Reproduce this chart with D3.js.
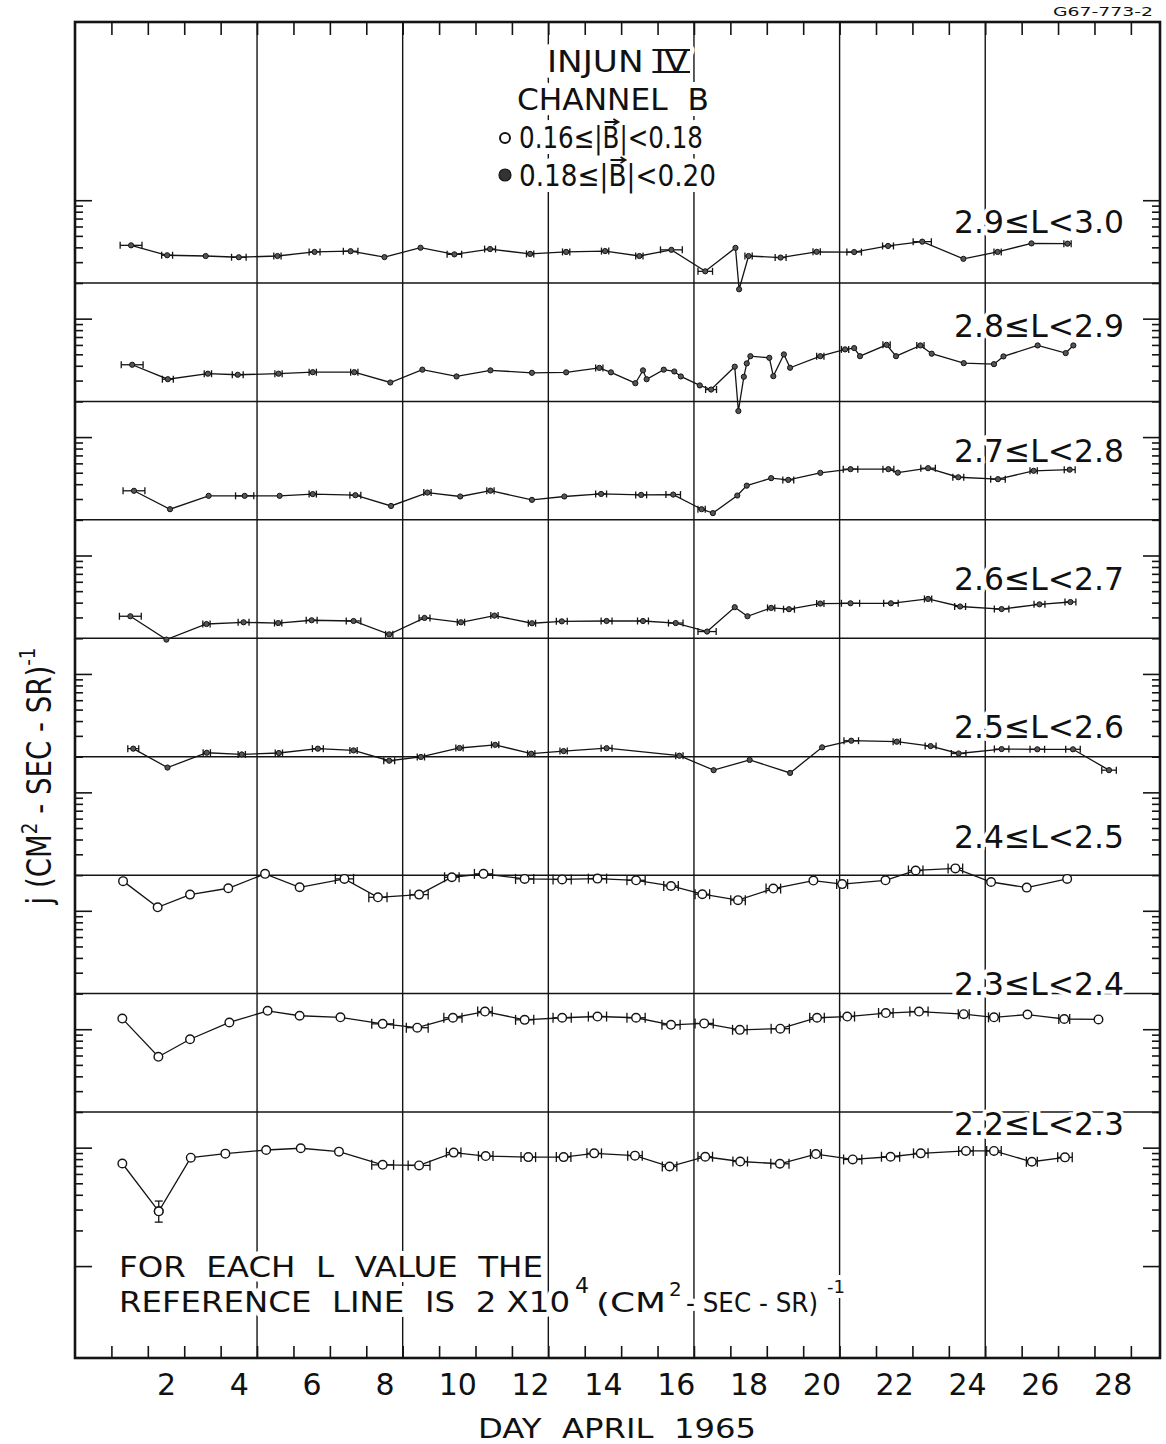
<!DOCTYPE html>
<html>
<head>
<meta charset="utf-8">
<script src="https://cdn.jsdelivr.net/npm/d3@7/dist/d3.min.js"></script>
<style>
  body { margin: 0; background: #fff; }
  svg { display: block; }
  text { font-family: "DejaVu Sans", "Liberation Sans", sans-serif; fill: #111; }
</style>
</head>
<body>
<svg id="chart" width="1166" height="1444"></svg>
<script>
// ---------------- DATA ----------------
// days of April 1965, flux j (cm^-2 s^-1 sr^-1), horizontal time-bar half widths (days)
const L22_day = [0.8,1.8,2.68,3.63,4.75,5.7,6.75,7.95,8.95,9.9,10.78,11.95,12.92,13.76,14.88,15.83,16.81,17.77,18.86,19.85,20.86,21.9,22.73,23.97,24.74,25.78,26.69];
const L22_j   = [7350,2900,8230,8900,9550,9880,9250,7160,7080,9080,8490,8320,8320,8950,8560,6930,8380,7640,7310,8830,7950,8380,8950,9380,9380,7600,8280];
const L22_bar = [0,0,0,0,0,0,0,0.3,0.3,0.2,0.2,0.2,0.2,0.2,0.2,0.2,0.2,0.2,0.25,0.15,0.25,0.25,0.2,0.2,0.2,0.15,0.2];
const L22_vErr = {index: 1, lo: 2350, hi: 3540};

const L23_day = [0.8,1.79,2.66,3.74,4.79,5.67,6.79,7.95,8.9,9.88,10.76,11.85,12.88,13.85,14.91,15.87,16.78,17.76,18.87,19.88,20.71,21.77,22.68,23.91,24.74,25.66,26.67,27.61];
const L23_j   = [12300,5850,8230,11400,14300,13000,12600,11100,10300,12500,14100,12000,12500,12800,12500,10900,11200,9880,10100,12500,12800,13700,14100,13400,12600,13300,12200,12100];
const L23_bar = [0,0,0,0,0,0,0,0.3,0.3,0.25,0.2,0.25,0.25,0.25,0.25,0.25,0.25,0.2,0.25,0.2,0.2,0.2,0.25,0.15,0.15,0,0.15,0];

const L24_day = [0.82,1.77,2.66,3.71,4.72,5.67,6.9,7.82,8.95,9.85,10.72,11.85,12.88,13.85,14.91,15.87,16.73,17.71,18.68,19.78,20.57,21.76,22.59,23.68,24.66,25.64,26.75];
const L24_j   = [17800,10700,13700,15500,20500,15800,18600,13000,13700,19200,20500,18600,18400,18700,18100,16200,13800,12300,15400,18000,16800,18100,21900,22800,17500,15700,18600];
const L24_bar = [0,0,0,0,0,0,0.25,0.25,0.25,0.2,0.25,0.25,0.25,0.25,0.25,0.2,0.2,0.2,0.2,0,0.15,0,0.2,0.2,0,0,0];

const L25_day = [1.1,2.04,3.12,4.08,5.1,6.17,7.15,8.13,9.0,10.06,11.04,12.03,12.92,14.1,16.1,17.04,18.03,19.14,20.02,20.82,22.07,23.0,23.77,24.95,25.93,26.91,27.9];
const L25_j   = [23400,16200,21600,20900,21500,23400,22600,18500,19900,23700,25200,21200,22300,23600,20400,15400,18800,14600,24000,27300,26800,24600,21300,23200,23100,23100,15400];
const L25_bar = [0.15,0,0.1,0.1,0.1,0.15,0.1,0.15,0.1,0.1,0.1,0.1,0.1,0.15,0.1,0,0,0,0,0.2,0.1,0.15,0.2,0.2,0.2,0.2,0.2];

const L26_day = [1.02,2.01,3.11,4.13,5.08,6.0,7.15,8.13,9.1,10.1,11.02,12.05,12.87,14.1,15.1,16.0,16.86,17.62,17.97,18.62,19.11,19.97,20.8,21.91,22.93,23.81,24.95,25.99,26.84];
const L26_j   = [30700,19500,26400,27300,26900,28400,28000,21600,29700,27300,31100,26800,27800,28000,28000,26900,22800,36600,30700,36100,35200,39300,39500,39500,43000,37100,35300,38700,40500];
const L26_bar = [0.3,0,0.1,0.15,0.1,0.15,0.2,0.1,0.15,0.1,0.1,0.1,0.15,0.15,0.15,0.2,0.25,0,0,0.1,0.15,0.1,0.25,0.2,0.1,0.15,0.2,0.15,0.15];

const L27_day = [1.12,2.11,3.17,4.16,5.12,6.03,7.2,8.18,9.18,10.08,10.91,12.05,12.94,13.95,15.05,15.93,16.71,17.02,17.69,17.95,18.62,19.09,19.97,20.8,21.84,22.1,22.93,23.76,24.85,25.83,26.82];
const L27_j   = [35200,24600,31900,31900,31900,33000,32300,26200,34000,31500,35300,29500,31500,33100,32500,32700,24600,22800,32100,38900,45000,43500,49900,53600,53600,50100,54600,45800,44100,51900,53100];
const L27_bar = [0.3,0,0,0.25,0,0.1,0.15,0,0.1,0,0.1,0,0,0.15,0.15,0.2,0.1,0,0,0,0,0.15,0,0.2,0.15,0,0.2,0.15,0.2,0.1,0.15];

const L28_day = [1.07,2.05,3.15,3.97,5.09,6.03,7.17,8.16,9.04,9.98,10.91,12.05,12.99,13.9,14.22,14.89,15.1,15.2,15.67,15.96,16.14,16.66,16.97,17.62,17.72,17.87,17.95,18.05,18.57,18.68,18.97,19.14,19.97,20.65,20.9,21.06,21.79,22.05,22.72,23.03,23.91,24.74,25.0,25.94,26.71,26.92];
const L28_j   = [40800,30800,34300,33600,34300,35300,35300,28900,37100,32500,36600,34900,35200,38400,35200,28500,36600,30800,37100,35800,32500,27300,25200,39300,16600,32300,41900,48200,46700,32700,49900,38500,48200,55000,56400,48200,60100,48200,59400,50600,42100,41300,48000,59400,51200,59400];
const L28_bar = [0.3,0.15,0.1,0.15,0.1,0.1,0.1,0,0,0,0,0,0,0.1,0,0,0,0,0,0,0,0,0.15,0,0,0,0,0,0,0,0,0,0.1,0.1,0,0,0.1,0,0.1,0,0,0,0,0,0,0];

const L29_day = [1.04,2.03,3.09,4.0,5.06,6.08,7.07,8.0,8.99,9.92,10.9,12.0,12.99,14.06,15.0,15.88,16.81,17.64,17.74,18.0,18.88,19.87,20.9,21.83,22.77,23.9,24.84,25.77,26.76];
const L29_j   = [41600,34300,33800,33000,33800,36600,37100,33100,39700,34900,38700,35200,36600,37200,33800,38100,25100,39600,17700,33800,32800,36700,36500,41100,44700,32000,36600,43200,43000];
const L29_bar = [0.3,0.15,0,0.2,0.1,0.15,0.2,0,0,0.2,0.15,0.1,0.1,0.1,0.1,0.3,0.2,0,0,0.1,0.15,0.1,0.2,0.15,0.25,0,0.1,0,0.1];

const bandLabels = ["2.2≤L<2.3","2.3≤L<2.4","2.4≤L<2.5","2.5≤L<2.6","2.6≤L<2.7","2.7≤L<2.8","2.8≤L<2.9","2.9≤L<3.0"];
const REF_FLUX = 2e4;          // reference line value for every L band
const PANEL_FACTOR = 10;       // each band is displaced by one decade
const xTickLabels = [2,4,6,8,10,12,14,16,18,20,22,24,26,28];
const gridDays = [4.5,8.5,12.5,16.5,20.5,24.5];
const dayBoundaries = d3.range(0.5, 29, 1);
const yDecades = d3.range(3, 13);   // exponents of decade ticks
const yMinorMult = [2,3,4,5,6,7,8,9];

// ---------------- LAYOUT ----------------
const frame = {left: 75, right: 1160, top: 22, bottom: 1358};
const labelBaselines = [1135, 995, 848, 738, 590, 462, 337, 233];
const labelLeft = 954, labelWidth = 170;

const svg = d3.select("#chart");
svg.append("rect").attr("width", 1166).attr("height", 1444).attr("fill", "#fff");

const x = d3.scaleLinear().domain([-0.5, 29.3]).range([frame.left, frame.right]);
const y = d3.scaleLog().domain([REF_FLUX, REF_FLUX * Math.pow(PANEL_FACTOR, 7)]).range([1112, 283]);

const bands = [
  {day: L22_day, j: L22_j, bar: L22_bar, open: true},
  {day: L23_day, j: L23_j, bar: L23_bar, open: true},
  {day: L24_day, j: L24_j, bar: L24_bar, open: true},
  {day: L25_day, j: L25_j, bar: L25_bar, open: false},
  {day: L26_day, j: L26_j, bar: L26_bar, open: false},
  {day: L27_day, j: L27_j, bar: L27_bar, open: false},
  {day: L28_day, j: L28_j, bar: L28_bar, open: false},
  {day: L29_day, j: L29_j, bar: L29_bar, open: false}
].map((b, p) => ({...b, p, label: bandLabels[p],
   pts: b.day.map((d, i) => ({d, v: b.j[i] * Math.pow(PANEL_FACTOR, p), bar: b.bar[i]}))}));

const ink = "#141414";

// ---------------- GRID ----------------
svg.append("g").selectAll("line").data(gridDays).join("line")
  .attr("x1", d => x(d)).attr("x2", d => x(d))
  .attr("y1", frame.top).attr("y2", frame.bottom)
  .attr("stroke", ink).attr("stroke-width", 1.4);

svg.append("g").selectAll("line").data(bands).join("line")
  .attr("x1", frame.left).attr("x2", frame.right)
  .attr("y1", b => y(REF_FLUX * Math.pow(PANEL_FACTOR, b.p)))
  .attr("y2", b => y(REF_FLUX * Math.pow(PANEL_FACTOR, b.p)))
  .attr("stroke", ink).attr("stroke-width", 1.5);

// ---------------- AXES ----------------
function clean(g){ g.select(".domain").remove(); g.selectAll("line").attr("stroke", ink).attr("stroke-width", 1.6); }

svg.append("g").attr("transform", `translate(0,${frame.bottom})`)
  .call(d3.axisTop(x).tickValues(dayBoundaries).tickSize(12).tickFormat(""))
  .call(clean);
svg.append("g").attr("transform", `translate(0,${frame.top})`)
  .call(d3.axisBottom(x).tickValues(dayBoundaries).tickSize(13).tickFormat(""))
  .call(clean);

const majorTicks = yDecades.map(n => Math.pow(10, n));
const minorTicks = yDecades.slice(0, -1).flatMap(n => yMinorMult.map(m => m * Math.pow(10, n)));
[[d3.axisRight, frame.left], [d3.axisLeft, frame.right]].forEach(([ax, px]) => {
  svg.append("g").attr("transform", `translate(${px},0)`)
    .call(ax(y).tickValues(majorTicks).tickSize(17).tickFormat("")).call(clean);
  svg.append("g").attr("transform", `translate(${px},0)`)
    .call(ax(y).tickValues(minorTicks).tickSize(8).tickFormat("")).call(clean);
});

// x tick labels
const xl = svg.append("g").attr("transform", `translate(0,${frame.bottom})`)
  .call(d3.axisBottom(x).tickValues(xTickLabels).tickSize(0).tickPadding(16));
xl.select(".domain").remove();
xl.selectAll("text").attr("font-size", 30).attr("font-family", '"DejaVu Sans", sans-serif').attr("fill", ink);

// frame
svg.append("rect").attr("x", frame.left).attr("y", frame.top)
  .attr("width", frame.right - frame.left).attr("height", frame.bottom - frame.top)
  .attr("fill", "none").attr("stroke", ink).attr("stroke-width", 2.6);

// ---------------- TEXT ----------------
function halo(sel, w) {
  return sel.attr("stroke", "#fff").attr("stroke-width", w).attr("paint-order", "stroke")
    .attr("stroke-linejoin", "round");
}

// band labels
svg.append("g").selectAll("text").data(bands).join("text")
  .attr("x", labelLeft).attr("y", b => labelBaselines[b.p])
  .attr("font-size", 32).attr("textLength", labelWidth).attr("lengthAdjust", "spacingAndGlyphs")
  .text(b => b.label).call(halo, 8);

// legend
const leg = svg.append("g");
const t1 = leg.append("text").attr("x", 547).attr("y", 72).attr("font-size", 30)
  .attr("textLength", 141).attr("lengthAdjust", "spacingAndGlyphs").style("white-space", "pre")
  .text("INJUN IV").call(halo, 12);
leg.append("text").attr("x", 517).attr("y", 110).attr("font-size", 30)
  .attr("textLength", 192).attr("lengthAdjust", "spacingAndGlyphs").style("white-space", "pre")
  .text("CHANNEL  B").call(halo, 12);
const t3 = leg.append("text").attr("x", 519).attr("y", 148).attr("font-size", 30)
  .attr("textLength", 184).attr("lengthAdjust", "spacingAndGlyphs")
  .text("0.16≤|B|<0.18").call(halo, 12);
const t4 = leg.append("text").attr("x", 519).attr("y", 186).attr("font-size", 30)
  .attr("textLength", 197).attr("lengthAdjust", "spacingAndGlyphs")
  .text("0.18≤|B|<0.20").call(halo, 12);
leg.append("circle").attr("cx", 505).attr("cy", 138).attr("r", 5)
  .attr("fill", "#fff").attr("stroke", ink).attr("stroke-width", 2);
leg.append("circle").attr("cx", 505).attr("cy", 175).attr("r", 6)
  .attr("fill", "#333").attr("stroke", ink).attr("stroke-width", 1.2);

// boxed roman numeral IV
{
  const n = t1.node();
  const s = n.getStartPositionOfChar(6).x, e = n.getEndPositionOfChar(7).x;
  leg.append("line").attr("x1", s - 2).attr("x2", e + 2).attr("y1", 50).attr("y2", 50).attr("stroke", ink).attr("stroke-width", 2);
  leg.append("line").attr("x1", s - 2).attr("x2", e + 2).attr("y1", 72).attr("y2", 72).attr("stroke", ink).attr("stroke-width", 2);
}
// vector arrows over B
[[t3, 148], [t4, 186]].forEach(([t, base]) => {
  const n = t.node();
  const s = n.getStartPositionOfChar(6).x, e = n.getEndPositionOfChar(6).x;
  const yy = base - 26;
  leg.append("path").attr("d", `M${s + 2},${yy} L${e - 1},${yy} M${e - 6},${yy - 3} L${e - 1},${yy} L${e - 6},${yy + 3}`)
    .attr("fill", "none").attr("stroke", ink).attr("stroke-width", 1.8);
});

// G-number
svg.append("text").attr("x", 1053).attr("y", 16).attr("font-size", 13)
  .attr("textLength", 100).attr("lengthAdjust", "spacingAndGlyphs").text("G67-773-2");

// note (two lines, superscripts as separate texts)
const note = svg.append("g");
note.append("text").attr("x", 119).attr("y", 1277).attr("font-size", 29).style("white-space", "pre")
  .attr("textLength", 424).attr("lengthAdjust", "spacingAndGlyphs")
  .text("FOR  EACH  L  VALUE  THE").call(halo, 10);
const notePieces = [
  {t: "REFERENCE  LINE  IS  2 X10", x: 119, y: 1312, fs: 29, w: 451},
  {t: "4", x: 575, y: 1293, fs: 22, w: null},
  {t: "(CM", x: 596, y: 1312, fs: 27, w: 70},
  {t: "2", x: 669, y: 1296, fs: 20, w: null},
  {t: "- SEC - SR)", x: 686, y: 1312, fs: 27, w: 132},
  {t: "-1", x: 827, y: 1293, fs: 18, w: null}
];
notePieces.forEach(p => {
  const t = note.append("text").attr("x", p.x).attr("y", p.y).attr("font-size", p.fs)
    .style("white-space", "pre").text(p.t).call(halo, 10);
  if (p.w) t.attr("textLength", p.w).attr("lengthAdjust", "spacingAndGlyphs");
});

// axis titles
svg.append("text").attr("x", 617).attr("y", 1438).attr("text-anchor", "middle").attr("font-size", 27)
  .style("white-space", "pre").attr("textLength", 278).attr("lengthAdjust", "spacingAndGlyphs")
  .text("DAY  APRIL  1965");
{
  const t = svg.append("text").attr("transform", "translate(51,776) rotate(-90)")
    .attr("text-anchor", "middle").attr("font-size", 33).style("white-space", "pre")
    .attr("textLength", 257).attr("lengthAdjust", "spacingAndGlyphs");
  t.append("tspan").text("j (CM");
  t.append("tspan").attr("dy", -14).attr("font-size", 22).text("2");
  t.append("tspan").attr("dy", 14).text(" - SEC - SR)");
  t.append("tspan").attr("dy", -16).attr("font-size", 22).text("-1");
}

// ---------------- DATA MARKS ----------------
const line = d3.line().x(p => x(p.d)).y(p => y(p.v));
const dataG = svg.append("g");
bands.forEach(b => {
  const g = dataG.append("g");
  g.append("path").attr("d", line(b.pts)).attr("fill", "none")
    .attr("stroke", ink).attr("stroke-width", 1.3);
  const withBar = b.pts.filter(p => p.bar > 0);
  g.selectAll("line.bar").data(withBar).join("line").attr("class", "bar")
    .attr("x1", p => x(p.d - p.bar)).attr("x2", p => x(p.d + p.bar))
    .attr("y1", p => y(p.v)).attr("y2", p => y(p.v))
    .attr("stroke", ink).attr("stroke-width", 1.3);
  const caps = withBar.flatMap(p => [{d: p.d - p.bar, v: p.v}, {d: p.d + p.bar, v: p.v}]);
  const ch = b.open ? 5 : 3.5;
  g.selectAll("line.cap").data(caps).join("line").attr("class", "cap")
    .attr("x1", c => x(c.d)).attr("x2", c => x(c.d))
    .attr("y1", c => y(c.v) - ch).attr("y2", c => y(c.v) + ch)
    .attr("stroke", ink).attr("stroke-width", 1.3);
  g.selectAll("circle").data(b.pts).join("circle")
    .attr("cx", p => x(p.d)).attr("cy", p => y(p.v))
    .attr("r", b.open ? 4.3 : 2.6)
    .attr("fill", b.open ? "#fff" : "#555")
    .attr("stroke", ink).attr("stroke-width", b.open ? 1.4 : 1);
});

// vertical error bar on the 2.2 band
{
  const b = bands[0], p = b.pts[L22_vErr.index];
  const lo = L22_vErr.lo, hi = L22_vErr.hi;
  const vg = dataG.append("g").attr("stroke", ink).attr("stroke-width", 1.3);
  vg.append("line").attr("x1", x(p.d)).attr("x2", x(p.d)).attr("y1", y(hi)).attr("y2", y(lo));
  [hi, lo].forEach(v => vg.append("line").attr("x1", x(p.d) - 4).attr("x2", x(p.d) + 4).attr("y1", y(v)).attr("y2", y(v)));
  dataG.append("circle").attr("cx", x(p.d)).attr("cy", y(p.v)).attr("r", 4.3)
    .attr("fill", "#fff").attr("stroke", ink).attr("stroke-width", 1.4);
}
</script>
</body>
</html>
